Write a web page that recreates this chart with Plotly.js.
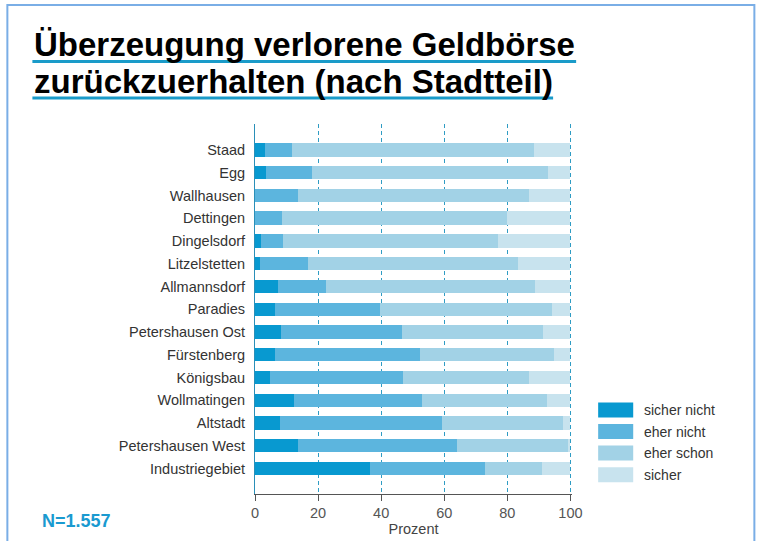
<!DOCTYPE html>
<html>
<head>
<meta charset="utf-8">
<script src="https://cdn.plot.ly/plotly-3.0.1.min.js"></script>
<style>
html,body{margin:0;padding:0;background:#fff;}
#chart{width:761px;height:541px;}
</style>
</head>
<body>
<div id="chart"></div>
<script>
// ---- data (top to bottom as displayed) ----
var districts = ["Staad","Egg","Wallhausen","Dettingen","Dingelsdorf","Litzelstetten","Allmannsdorf","Paradies","Petershausen Ost","Fürstenberg","Königsbau","Wollmatingen","Altstadt","Petershausen West","Industriegebiet"];
var sicherNicht = [3.1, 3.6, 0, 0, 1.9, 1.7, 7.2, 6.2, 8.2, 6.2, 4.9, 12.3, 7.8, 13.6, 36.4];
var eherNicht   = [8.6, 14.4, 13.6, 8.6, 7.1, 15.1, 15.2, 33.5, 38.3, 46.2, 42.1, 40.6, 51.4, 50.5, 36.4];
var eherSchon   = [76.6, 75.0, 73.2, 71.2, 68.0, 66.6, 66.4, 54.5, 44.7, 42.3, 39.8, 39.7, 38.4, 35.0, 18.2];
var sicher      = [11.7, 7.0, 13.2, 20.2, 23.0, 16.6, 11.2, 5.8, 8.8, 5.3, 13.2, 7.4, 2.4, 0.9, 9.0];
var seriesNames = ["sicher nicht","eher nicht","eher schon","sicher"];
var xTicks = [0, 20, 40, 60, 80, 100];
var titleLine1 = "Überzeugung verlorene Geldbörse";
var titleLine2 = "zurückzuerhalten (nach Stadtteil)";
var xTitle = "Prozent";
var noteText = "N=1.557";

// ---- styling ----
var colors = ["#0899d0","#5cb5de","#a2d2e6","#c8e3ee"];
var FONT = "Liberation Sans, Arial, Helvetica, sans-serif";
var W = 761, H = 541;
var XMAX = 100.5;
var ML = 255.3, MR = W - (255.3 + 3.15 * XMAX), MT = 124, MB = H - 494;
var PW = W - ML - MR, PH = H - MT - MB;
function px(x){ return (x - ML) / PW; }
function py(y){ return 1 - (y - MT) / PH; }

var values = [sicherNicht, eherNicht, eherSchon, sicher];
var traces = values.map(function(v, i){
  return {
    type: "bar", orientation: "h", name: seriesNames[i],
    x: v, y: districts,
    marker: {color: colors[i], line: {width: 0}},
    showlegend: false,
    hovertemplate: "%{y}: %{x}%<extra>" + seriesNames[i] + "</extra>"
  };
});

var shapes = [
  // frame
  {type:"rect", xref:"paper", yref:"paper", x0:px(8), x1:px(754), y0:py(5), y1:py(560),
   line:{color:"#7aaee6", width:2}, fillcolor:"rgba(0,0,0,0)", layer:"below"},
  // title underlines
  {type:"line", xref:"paper", yref:"paper", x0:px(33), x1:px(576), y0:py(61.5), y1:py(61.5),
   line:{color:"#1a9bc9", width:3}},
  {type:"line", xref:"paper", yref:"paper", x0:px(33), x1:px(553), y0:py(98), y1:py(98),
   line:{color:"#1a9bc9", width:3}}
];
var annotations = [
  {xref:"paper", yref:"paper", x:px(33), y:py(45), xanchor:"left", yanchor:"middle",
   text:"<b>"+titleLine1+"</b>", showarrow:false, font:{family:FONT, size:33, color:"#000"}},
  {xref:"paper", yref:"paper", x:px(33), y:py(81), xanchor:"left", yanchor:"middle",
   text:"<b>"+titleLine2+"</b>", showarrow:false, font:{family:FONT, size:33, color:"#000"}},
  {xref:"paper", yref:"paper", x:px(41), y:py(521), xanchor:"left", yanchor:"middle",
   text:"<b>"+noteText+"</b>", showarrow:false, font:{family:FONT, size:18, color:"#1a9ad0"}}
];
// custom legend (wide swatches)
var legY = [410, 431.5, 453, 474.8];
seriesNames.forEach(function(n, i){
  shapes.push({type:"rect", xref:"paper", yref:"paper", x0:px(598), x1:px(633),
    y0:py(legY[i]-7.5), y1:py(legY[i]+7.5), line:{width:0}, fillcolor:colors[i]});
  annotations.push({xref:"paper", yref:"paper", x:px(642), y:py(legY[i]), xanchor:"left", yanchor:"middle",
    text:n, showarrow:false, font:{family:FONT, size:14, color:"#333"}});
});

var layout = {
  width: W, height: H,
  margin: {l: ML, r: MR, t: MT, b: MB, pad: 0},
  paper_bgcolor: "#fff", plot_bgcolor: "#fff",
  font: {family: FONT, color: "#333"},
  barmode: "stack", bargap: 0.41,
  showlegend: false,
  xaxis: {
    range: [0, XMAX], tickvals: xTicks, ticktext: xTicks.map(String),
    showgrid: true, gridcolor: "#2f9cc4", griddash: "4px,3px", gridwidth: 1,
    zeroline: false,
    showline: true, linecolor: "#555", linewidth: 1,
    ticks: "outside", ticklen: 6, tickcolor: "#555",
    tickfont: {family: FONT, size: 14.5, color: "#555"},
    title: {text: xTitle, font: {family: FONT, size: 14.5, color: "#444"}, standoff: 2},
    fixedrange: true
  },
  yaxis: {
    type: "category", categoryorder: "array", categoryarray: districts,
    range: [15.12, -1.14],
    showgrid: false, zeroline: false,
    showline: true, linecolor: "#2a8fb8", linewidth: 1,
    ticks: "", ticklabelstandoff: 6,
    tickfont: {family: FONT, size: 14.5, color: "#333"},
    fixedrange: true
  },
  shapes: shapes,
  annotations: annotations
};

Plotly.newPlot("chart", traces, layout, {displayModeBar: false, staticPlot: true});
</script>
</body>
</html>
